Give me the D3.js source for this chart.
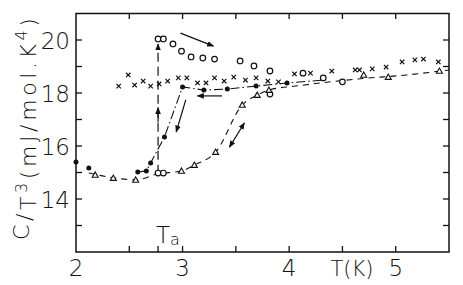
<!DOCTYPE html>
<html><head><meta charset="utf-8">
<script src="https://cdn.jsdelivr.net/npm/d3@7"></script>
<style>
body{margin:0;background:#fff;}
text{font-family:"DejaVu Sans",sans-serif;fill:#111;}
</style></head>
<body><svg id="c" width="463" height="285"></svg>
<script>
// ---- data (T in K, C/T^3 in mJ/mol.K^4) ----
const crossT = [2.40,2.49,2.55,2.63,2.70,2.78,2.86,2.96,3.04,3.14,3.22,3.30,3.39,3.48,3.59,3.69,3.80,3.90,4.05,4.20,4.40,4.62,4.66,4.78,4.91,5.06,5.18,5.26,5.40];
const crossV = [18.26,18.68,18.30,18.45,18.26,18.34,18.45,18.57,18.57,18.38,18.38,18.57,18.45,18.60,18.49,18.57,18.45,18.42,18.72,18.75,18.83,18.87,18.87,18.91,18.98,19.17,19.25,19.28,19.17];
const circT = [2.77,2.82,2.77,2.82,2.91,2.99,3.08,3.19,3.30,3.54,3.67,3.82,3.82,4.13,4.32,4.50];
const circV = [14.98,14.98,20.04,20.04,19.85,19.58,19.36,19.32,19.28,19.21,19.02,18.83,17.96,18.75,18.57,18.42];
const triT = [2.18,2.35,2.56,2.99,3.11,3.31,3.56,3.70,3.81,4.70,4.93,5.41];
const triV = [14.91,14.79,14.72,15.06,15.28,15.77,17.55,17.92,18.11,18.68,18.60,18.83];
const dotT = [2.00,2.12,2.58,2.66,2.70,2.83,3.00,3.20,3.42,3.69,3.98];
const dotV = [15.40,15.17,15.02,15.06,15.36,16.34,18.23,18.11,18.15,18.26,18.38];
// guide curves
const dashT = [2.12,2.35,2.56,2.77,2.99,3.11,3.31,3.56,3.70,3.81,4.10,4.70,5.10,5.50];
const dashV = [14.98,14.80,14.72,14.95,15.06,15.28,15.77,17.55,17.92,18.11,18.28,18.55,18.68,18.87];
const dashDotT = [2.58,2.66,2.70,2.83,3.00,3.20,3.42,3.69,3.98,4.30];
const dashDotV = [15.02,15.06,15.36,16.34,18.23,18.11,18.15,18.26,18.38,18.48];
const Ta = 2.77;
const taLineV = [14.95,19.85];
const arrows = [ // [T1,v1,T2,v2,doubleHead]
  [2.98,20.26,3.29,19.77,0],
  [3.37,17.89,3.14,17.89,0],
  [3.03,17.74,2.94,16.53,0],
  [3.58,16.87,3.44,15.96,1]
];
const xTickLabels = [2,3,4,5];
const xMinorTicks = [2.5,3,3.5,4,4.5,5,Ta];
const yTickLabels = [14,16,18,20];
const yMinorTicks = [13,15,17,19];
const yRightTicks = [13,14,15,16,17,18,19,20];

const svg = d3.select("#c");
const x = d3.scaleLinear().domain([2,5.5]).range([76,449]);
const y = d3.scaleLinear().domain([12,21]).range([252,13.5]);
const ink = "#111";

// frame
svg.append("rect").attr("x",76).attr("y",13.5).attr("width",373).attr("height",238.5)
  .attr("fill","none").attr("stroke",ink).attr("stroke-width",1.5);

// ticks
const g = svg.append("g").attr("stroke",ink).attr("stroke-width",1.3);
xMinorTicks.forEach(t=>{
  g.append("line").attr("x1",x(t)).attr("x2",x(t)).attr("y1",252).attr("y2",246);
  if(t!==Ta) g.append("line").attr("x1",x(t)).attr("x2",x(t)).attr("y1",13.5).attr("y2",19);
});
yTickLabels.concat(yMinorTicks).forEach(v=>{
  g.append("line").attr("x1",76).attr("x2",82).attr("y1",y(v)).attr("y2",y(v));
});
yRightTicks.forEach(v=>{
  g.append("line").attr("x1",449).attr("x2",443).attr("y1",y(v)).attr("y2",y(v));
});

// tick labels
xTickLabels.forEach(t=>{
  svg.append("text").attr("x",x(t)).attr("y",276).attr("text-anchor","middle")
    .attr("font-size",23).attr("font-weight",200).text(t);
});
yTickLabels.forEach(v=>{
  svg.append("text").attr("x",70).attr("y",y(v)+9).attr("text-anchor","end")
    .attr("font-size",23).attr("font-weight",200).text(v);
});
svg.append("text").attr("x",352).attr("y",276).attr("text-anchor","middle")
  .attr("font-size",21).attr("font-weight",200).text("T(K)");
const ta = svg.append("text").attr("x",156).attr("y",243).attr("font-size",23).attr("font-weight",200);
ta.append("tspan").text("T");
ta.append("tspan").attr("font-size",16).attr("dy",2).text("a");

// y axis label
const yl = svg.append("text").attr("transform","translate(36,240) rotate(-90)")
  .attr("font-size",22).attr("font-weight",200).attr("letter-spacing",3.6);
yl.append("tspan").attr("dy",-7).text("C");
yl.append("tspan").attr("dy",3).text("/");
yl.append("tspan").attr("dy",4).text("T");
yl.append("tspan").attr("dy",-9).attr("font-size",16).text("3");
yl.append("tspan").attr("dy",9).text("(mJ/mol.K");
yl.append("tspan").attr("dy",-9).attr("font-size",16).text("4");
yl.append("tspan").attr("dy",9).text(")");

// guide lines
const line = d3.line().x(d=>x(d[0])).y(d=>y(d[1])).curve(d3.curveMonotoneX);
svg.append("path").attr("d",line(d3.zip(dashT,dashV))).attr("fill","none")
  .attr("stroke",ink).attr("stroke-width",1.1).attr("stroke-dasharray","6,5");
svg.append("path").attr("d",d3.line().x(d=>x(d[0])).y(d=>y(d[1]))(d3.zip(dashDotT,dashDotV))).attr("fill","none")
  .attr("stroke",ink).attr("stroke-width",1.1).attr("stroke-dasharray","9,3,1.5,3");

// arrowheads
const defs = svg.append("defs");
defs.append("marker").attr("id","ah").attr("viewBox","0 0 10 10").attr("refX",9).attr("refY",5)
  .attr("markerWidth",7).attr("markerHeight",7).attr("orient","auto-start-reverse").attr("markerUnits","userSpaceOnUse")
  .append("path").attr("d","M0,1 L10,5 L0,9 Z").attr("fill",ink);

// Ta vertical dashed line
svg.append("line").attr("x1",x(Ta)).attr("x2",x(Ta)).attr("y1",y(taLineV[0])).attr("y2",y(taLineV[1]))
  .attr("stroke",ink).attr("stroke-width",1.2).attr("stroke-dasharray","9,5").attr("marker-end","url(#ah)");
svg.append("line").attr("x1",x(Ta)).attr("x2",x(Ta)).attr("y1",y(16.9)).attr("y2",y(17.45))
  .attr("stroke",ink).attr("stroke-width",1.2).attr("marker-end","url(#ah)");

arrows.forEach(a=>{
  const l = svg.append("line").attr("x1",x(a[0])).attr("y1",y(a[1])).attr("x2",x(a[2])).attr("y2",y(a[3]))
    .attr("stroke",ink).attr("stroke-width",1.2).attr("marker-end","url(#ah)");
  if(a[4]) l.attr("marker-start","url(#ah)");
});

// markers
svg.append("g").selectAll("path").data(d3.zip(crossT,crossV)).join("path")
  .attr("transform",d=>`translate(${x(d[0])},${y(d[1])})`)
  .attr("d","M-2.2,-2.2L2.2,2.2M-2.2,2.2L2.2,-2.2").attr("stroke",ink).attr("stroke-width",1.2);
svg.append("g").selectAll("circle").data(d3.zip(circT,circV)).join("circle")
  .attr("cx",d=>x(d[0])).attr("cy",d=>y(d[1])).attr("r",2.8)
  .attr("fill","#fff").attr("stroke",ink).attr("stroke-width",1.2);
svg.append("g").selectAll("path").data(d3.zip(triT,triV)).join("path")
  .attr("transform",d=>`translate(${x(d[0])},${y(d[1])})`)
  .attr("d","M0,-3L3,2.3L-3,2.3Z").attr("fill","#fff").attr("stroke",ink).attr("stroke-width",1.1);
svg.append("g").selectAll("circle").data(d3.zip(dotT,dotV)).join("circle")
  .attr("cx",d=>x(d[0])).attr("cy",d=>y(d[1])).attr("r",2.5).attr("fill",ink);
</script></body></html>
